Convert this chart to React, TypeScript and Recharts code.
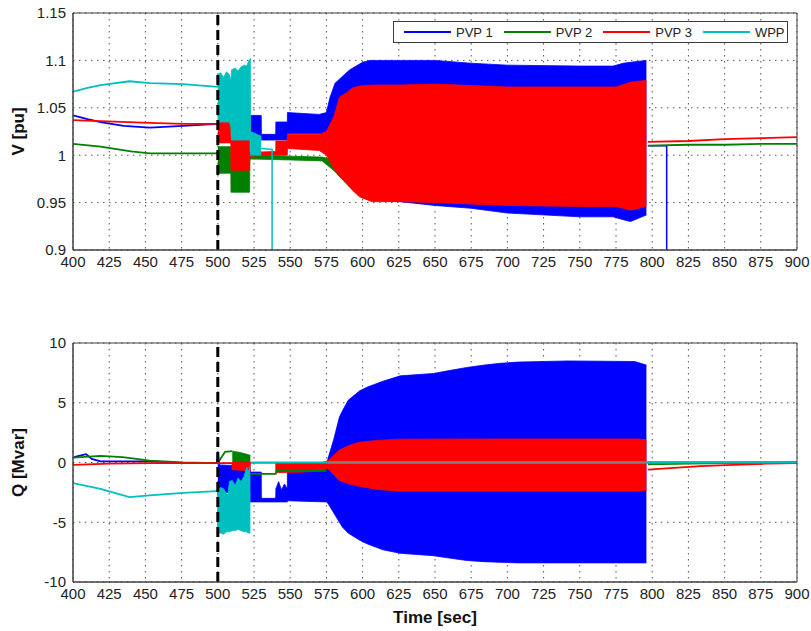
import React from 'react';
import {
  ComposedChart,
  Line,
  Area,
  XAxis,
  YAxis,
  CartesianGrid,
  ReferenceLine,
  Legend
} from 'recharts';

// axis ticks
const xTicks = [400, 425, 450, 475, 500, 525, 550, 575, 600, 625, 650, 675, 700, 725, 750, 775, 800, 825, 850, 875, 900];
const vTicks = [0.9, 0.95, 1, 1.05, 1.1, 1.15];
const qTicks = [-10, -5, 0, 5, 10];
const eventTime = 500;

// ---- V [pu] : [t, v] lines and [t, lo, hi] oscillation envelopes ----
const vPvp1Pre = [[400, 1.042], [410, 1.038], [419, 1.035], [435, 1.031], [453, 1.029], [476, 1.031], [500, 1.033]];
const vPvp2Pre = [[400, 1.012], [419, 1.009], [440, 1.004], [453, 1.002], [476, 1.002], [500, 1.002]];
const vPvp3Pre = [[400, 1.037], [419, 1.036], [453, 1.034], [476, 1.033], [500, 1.033]];
const vWppPre = [[400, 1.067], [410, 1.071], [419, 1.074], [439, 1.078], [453, 1.076], [476, 1.075], [500, 1.072]];

const vPvp1Band = [
  [522.5, 1.019, 1.042], [530, 1.019, 1.042], [530.1, 1.016, 1.022], [540, 1.016, 1.022],
  [540.1, 1.016, 1.035], [548, 1.016, 1.035], [548.1, 1.023, 1.045], [570, 1.023, 1.043],
  [575, 1.02, 1.045], [577.5, 1.01, 1.061], [581, 1.0, 1.076], [591, 0.975, 1.09],
  [600, 0.958, 1.098], [605, 0.953, 1.1], [626, 0.951, 1.1], [650, 0.947, 1.1],
  [675, 0.944, 1.097], [700, 0.939, 1.095], [750, 0.935, 1.094], [773, 0.935, 1.094],
  [780, 0.932, 1.097], [785, 0.93, 1.098], [796, 0.937, 1.1]
];
const vPvp2Band = [
  [500, 0.981, 1.009], [509, 0.981, 1.009], [509.1, 0.961, 0.992], [522, 0.961, 0.992],
  [522.1, 0.996, 1.0], [550, 0.995, 0.999], [572, 0.994, 0.998], [580, 0.984, 0.995],
  [590, 0.968, 0.99], [600, 0.955, 0.985], [607, 0.951, 0.98]
];
const vPvp3Band = [
  [500, 1.013, 1.039], [509, 1.013, 1.041], [509.1, 0.984, 1.019], [522, 0.984, 1.019],
  [522.1, 0.999, 1.003], [540, 1.0, 1.004], [540.1, 1.0, 1.015], [548, 1.0, 1.015],
  [548.1, 1.007, 1.022], [570, 1.005, 1.022], [575, 1.0, 1.025], [580, 0.986, 1.04],
  [584, 0.978, 1.061], [589, 0.97, 1.066], [593, 0.963, 1.071], [598, 0.956, 1.073],
  [607, 0.951, 1.074], [625, 0.951, 1.074], [650, 0.95, 1.075], [700, 0.947, 1.072],
  [750, 0.946, 1.072], [775, 0.946, 1.072], [785, 0.942, 1.077], [796, 0.946, 1.079]
];
const vWppBand = [
  [500, 1.035, 1.085], [502, 1.035, 1.087], [504, 1.035, 1.082], [506, 1.035, 1.088],
  [508, 1.035, 1.085], [509, 1.03, 1.078], [509.5, 1.016, 1.09], [512, 1.016, 1.092],
  [514, 1.016, 1.089], [516, 1.016, 1.093], [518, 1.016, 1.095], [520, 1.016, 1.094],
  [521, 1.016, 1.098], [522.5, 1.016, 1.102], [522.6, 1.0, 1.025], [530, 1.0, 1.02]
];
const vWppTail = [[530, 1.007], [537.5, 1.006], [537.5, 0.85]];
const vPvp1Post = [[797, 1.01], [810, 1.01], [810, 0.85]];
const vPvp2Post = [[797, 1.01], [825, 1.011], [850, 1.011], [875, 1.012], [900, 1.012]];
const vPvp3Post = [[797, 1.014], [825, 1.015], [850, 1.017], [875, 1.018], [900, 1.019]];

// ---- Q [Mvar] ----
const qPvp1Pre = [[400, 0.4], [402, 0.5], [409, 0.7], [413, 0.3], [419, 0.1], [453, 0.1], [476, -0.05], [499.5, -0.05], [500, 0.9], [501, -0.2]];
const qPvp2Pre = [[400, 0.4], [419, 0.55], [434, 0.45], [441, 0.35], [453, 0.15], [476, 0], [500, -0.05], [505, 0.9], [510, 0.95]];
const qPvp3Pre = [[400, -0.2], [425, -0.1], [453, -0.05], [500, -0.05], [510, -0.05]];
const qWppPre = [[400, -1.72], [419, -2.2], [439, -2.9], [453, -2.75], [476, -2.55], [499.5, -2.4]];

const qPvp1Band = [
  [500, -2.5, -0.2], [522.5, -2.5, -0.3], [522.6, -3.3, -0.8], [530, -3.3, -0.8],
  [530.1, -3.3, -3.0], [540, -3.3, -3.0], [540.1, -3.3, -2.2], [542, -3.3, -1.6],
  [544, -3.3, -2.3], [546, -3.3, -1.8], [548, -3.3, -2.2], [548.1, -3.2, -0.7],
  [575, -3.3, -0.6], [576, -3.4, 0.3], [580, -4.2, 1.9], [584, -5.0, 3.8],
  [586, -5.4, 4.3], [590, -5.9, 5.2], [598, -6.5, 6.0], [603, -6.8, 6.3],
  [614, -7.3, 6.8], [626, -7.6, 7.25], [649, -7.8, 7.45], [660, -8.0, 7.7],
  [672, -8.2, 7.95], [684, -8.3, 8.15], [695, -8.35, 8.3], [707, -8.4, 8.4],
  [742, -8.4, 8.5], [788, -8.4, 8.45], [796, -8.4, 8.15]
];
const qPvp2Band = [[510, 0, 0.95], [515, 0, 0.85], [522.5, 0, 0.6]];
const qPvp2Mid = [[522.6, -0.95], [540, -0.95], [540.5, -0.7], [575, -0.7]];
const qPvp3Band = [
  [509.5, -0.6, 0], [522.5, -0.7, 0], [522.6, -0.05, 0], [540, -0.05, 0],
  [540.1, -0.85, 0], [560, -0.8, 0], [572, -0.7, 0], [576, -0.5, 0.15],
  [580, -1.0, 0.6], [584, -1.5, 1.05], [591, -1.8, 1.45], [598, -2.0, 1.7],
  [610, -2.25, 1.85], [625, -2.4, 1.95], [700, -2.4, 1.97], [790, -2.4, 1.97], [796, -2.35, 1.9]
];
const qWppBand = [
  [499.5, -5.9, -2.3], [502, -5.9, -2.1], [504, -6.0, -2.2], [506, -5.8, -2.6],
  [507, -5.8, -2.7], [508, -5.8, -1.6], [510, -5.7, -1.5], [512, -5.7, -1.9],
  [514, -5.6, -1.3], [516, -5.7, -1.6], [518, -5.8, -1.2], [520, -5.8, -0.4],
  [521, -5.9, -0.8], [522.5, -5.9, -0.2]
];
const qWppPost = [[523, 0], [900, 0]];
const qZeroLine = [[576, 0], [797, 0]];
const qPvp1Post = [[797, 0], [900, 0]];
const qPvp2Post = [[797, -0.15], [825, -0.1], [850, -0.05], [900, 0]];
const qPvp3Post = [[797, -0.6], [810, -0.5], [833, -0.3], [856, -0.2], [879, -0.1], [900, -0.05]];

const BLUE = '#0000FF';
const GREEN = '#008000';
const RED = '#FF0000';
const CYAN = '#00BFBF';
const FONT = '"Liberation Sans", Arial, Helvetica, sans-serif';

const legendItems = [
  { name: 'PVP 1', color: BLUE },
  { name: 'PVP 2', color: GREEN },
  { name: 'PVP 3', color: RED },
  { name: 'WPP', color: CYAN }
];

const toLine = (rows: number[][]) => rows.map(([t, v]) => ({ t, v }));
const toBand = (rows: number[][]) => rows.map(([t, lo, hi]) => ({ t, r: [lo, hi] }));

const tickStyle = { fill: '#222', fontSize: 15, fontFamily: FONT };
const AXIS = '#404040';

const AxisTitle = ({ viewBox, text }: any) => {
  const cx = viewBox.x + 18;
  const cy = viewBox.y + viewBox.height / 2;
  return (
    <text
      x={cx}
      y={cy}
      transform={`rotate(-90 ${cx} ${cy})`}
      textAnchor="middle"
      dominantBaseline="central"
      fontWeight="bold"
      fontSize={17}
      fontFamily={FONT}
      fill="#111"
    >
      {text}
    </text>
  );
};

const MatlabLegend = () => (
  <div
    style={{
      width: 395,
      height: 22,
      boxSizing: 'border-box',
      border: '1px solid #3c3c3c',
      background: '#fff',
      display: 'flex',
      alignItems: 'center',
      paddingLeft: 10,
      fontFamily: FONT,
      fontSize: 13,
      color: '#222',
      whiteSpace: 'nowrap',
      overflow: 'hidden'
    }}
  >
    {legendItems.map((it) => (
      <div key={it.name} style={{ display: 'flex', alignItems: 'center', marginRight: 11, flexShrink: 0 }}>
        <div style={{ width: 47, height: 2, background: it.color, marginRight: 5 }} />
        <span>{it.name}</span>
      </div>
    ))}
  </div>
);

const line = (rows: number[][], color: string, key: string, width = 1.8) => (
  <Line
    key={key}
    data={toLine(rows)}
    dataKey="v"
    type="linear"
    stroke={color}
    strokeWidth={width}
    dot={false}
    activeDot={false}
    legendType="none"
    isAnimationActive={false}
  />
);

const band = (rows: number[][], color: string, key: string) => (
  <Area
    key={key}
    data={toBand(rows)}
    dataKey="r"
    type="linear"
    stroke={color}
    strokeWidth={0.8}
    fill={color}
    fillOpacity={1}
    dot={false}
    activeDot={false}
    legendType="none"
    isAnimationActive={false}
  />
);

// box ticks drawn inward on all four sides
const frameAxes = (yDomain: number[], yTicks: number[]) => [
  <XAxis key="fb" xAxisId="fb" orientation="bottom" type="number" domain={[400, 900]} ticks={xTicks} mirror tick={false} tickSize={5} stroke={AXIS} height={5} />,
  <XAxis key="ft" xAxisId="ft" orientation="top" type="number" domain={[400, 900]} ticks={xTicks} mirror tick={false} tickSize={5} stroke={AXIS} height={5} />,
  <YAxis key="fl" yAxisId="fl" orientation="left" type="number" domain={yDomain} ticks={yTicks} mirror tick={false} tickSize={5} stroke={AXIS} width={5} />,
  <YAxis key="fr" yAxisId="fr" orientation="right" type="number" domain={yDomain} ticks={yTicks} mirror tick={false} tickSize={5} stroke={AXIS} width={5} />
];

const VoltageChart = () => (
  <ComposedChart width={811} height={280} margin={{ top: 13, right: 14, bottom: 0, left: 0 }}>
    <CartesianGrid stroke="#555" strokeDasharray="1.5 4.5" />
    <XAxis dataKey="t" type="number" domain={[400, 900]} ticks={xTicks} allowDataOverflow
      height={30} tickLine={false} tickSize={0} tickMargin={6} tick={tickStyle} stroke={AXIS} />
    <YAxis type="number" domain={[0.9, 1.15]} ticks={vTicks} allowDataOverflow width={73}
      tickLine={false} tickSize={0} tickMargin={7} tick={tickStyle} stroke={AXIS}
      label={<AxisTitle text="V [pu]" />} />
    {frameAxes([0.9, 1.15], vTicks)}
    {line(vPvp1Pre, BLUE, 'v1a')}
    {line(vPvp2Pre, GREEN, 'v2a')}
    {line(vPvp3Pre, RED, 'v3a')}
    {line(vWppPre, CYAN, 'v4a')}
    {band(vPvp1Band, BLUE, 'v1b')}
    {band(vPvp2Band, GREEN, 'v2b')}
    {band(vPvp3Band, RED, 'v3b')}
    {band(vWppBand, CYAN, 'v4b')}
    {line(vWppTail, CYAN, 'v4c', 1.5)}
    {line(vPvp1Post, BLUE, 'v1c', 1.5)}
    {line(vPvp2Post, GREEN, 'v2c')}
    {line(vPvp3Post, RED, 'v3c')}
    <ReferenceLine x={eventTime} stroke="#000" strokeWidth={3} strokeDasharray="10 5" />
    <Legend content={<MatlabLegend />} layout="horizontal" verticalAlign="middle" align="center"
      wrapperStyle={{ top: 21, left: 393, width: 395, height: 22 }} />
  </ComposedChart>
);

const ReactiveChart = () => (
  <ComposedChart width={811} height={301} margin={{ top: 13, right: 14, bottom: 0, left: 0 }}>
    <CartesianGrid stroke="#555" strokeDasharray="1.5 4.5" />
    <XAxis dataKey="t" type="number" domain={[400, 900]} ticks={xTicks} allowDataOverflow
      height={49} tickLine={false} tickSize={0} tickMargin={6} tick={tickStyle} stroke={AXIS}
      label={{ value: 'Time [sec]', position: 'insideBottom', offset: 8, fontSize: 17, fontWeight: 'bold', fontFamily: FONT, fill: '#111' }} />
    <YAxis type="number" domain={[-10, 10]} ticks={qTicks} allowDataOverflow width={73}
      tickLine={false} tickSize={0} tickMargin={7} tick={tickStyle} stroke={AXIS}
      label={<AxisTitle text="Q [Mvar]" />} />
    {frameAxes([-10, 10], qTicks)}
    {line(qPvp1Pre, BLUE, 'q1a')}
    {line(qPvp2Pre, GREEN, 'q2a')}
    {line(qPvp3Pre, RED, 'q3a')}
    {line(qWppPre, CYAN, 'q4a')}
    {band(qPvp1Band, BLUE, 'q1b')}
    {band(qPvp2Band, GREEN, 'q2b')}
    {line(qPvp2Mid, GREEN, 'q2m')}
    {band(qPvp3Band, RED, 'q3b')}
    {band(qWppBand, CYAN, 'q4b')}
    {line(qPvp1Post, BLUE, 'q1c')}
    {line(qPvp2Post, GREEN, 'q2c')}
    {line(qPvp3Post, RED, 'q3c')}
    {line(qWppPost, CYAN, 'q4c')}
    {line(qZeroLine, '#808080', 'q0', 2)}
    <ReferenceLine x={eventTime} stroke="#000" strokeWidth={3} strokeDasharray="10 5" />
  </ComposedChart>
);

export default function App() {
  return (
    <div style={{ position: 'absolute', left: 0, top: 0, width: 811, height: 631, background: '#fff' }}>
      <div style={{ position: 'absolute', left: 0, top: 0 }}>
        <VoltageChart />
      </div>
      <div style={{ position: 'absolute', left: 0, top: 330 }}>
        <ReactiveChart />
      </div>
    </div>
  );
}
